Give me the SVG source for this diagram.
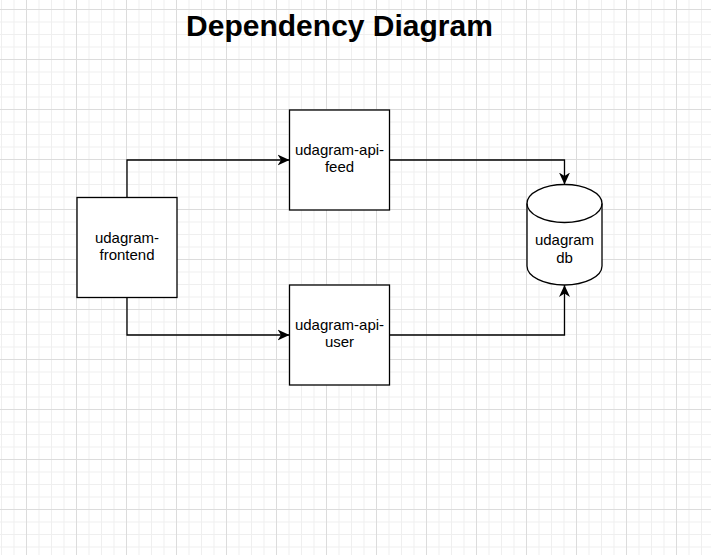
<svg xmlns="http://www.w3.org/2000/svg" width="711" height="555" viewBox="0 0 711 555">
<style>
.node{fill:#fff;stroke:#000;stroke-width:1.3}
.lbl{font-family:"Liberation Sans",Arial,sans-serif;font-size:15px;fill:#000;text-anchor:middle}
.title{font-family:"Liberation Sans",Arial,sans-serif;font-size:30px;font-weight:bold;fill:#000;text-anchor:middle}
.edge{fill:none;stroke:#000;stroke-width:1.3}
.minor{stroke:#efefef;stroke-width:1}
.major{stroke:#dcdcdc;stroke-width:1}
</style>
<defs>
<pattern id="grid" patternUnits="userSpaceOnUse" x="26" y="9" width="50" height="50">
<path class="minor" d="M13,0V50M25.5,0V50M38,0V50M0,13H50M0,25.5H50M0,38H50"/>
<path class="major" d="M0.5,0V50M0,0.5H50"/>
</pattern>
<marker id="arr" markerUnits="userSpaceOnUse" viewBox="0 0 12 12" refX="12" refY="6" markerWidth="12" markerHeight="12" orient="auto">
<path d="M0,0.5L12,6L0,11.5L3.5,6Z" fill="#000"/>
</marker>
</defs>
<rect width="711" height="555" fill="#fff"/>
<rect width="711" height="555" fill="url(#grid)"/>
<text class="title" x="339.5" y="36">Dependency Diagram</text>
<g id="connectors">
<path class="edge" d="M127,197.5V160H289.5" marker-end="url(#arr)"/>
<path class="edge" d="M127,297.5V335H289.5" marker-end="url(#arr)"/>
<path class="edge" d="M389.5,160H564.5V184.5" marker-end="url(#arr)"/>
<path class="edge" d="M389.5,335H564.5V285" marker-end="url(#arr)"/>
</g>
<g id="frontend">
<rect class="node" x="77" y="197.5" width="100" height="100"/>
<text class="lbl" x="127" y="242.5">udagram-</text>
<text class="lbl" x="127" y="260">frontend</text>
</g>
<g id="api-feed">
<rect class="node" x="289.5" y="110" width="100" height="100"/>
<text class="lbl" x="339.5" y="154.5">udagram-api-</text>
<text class="lbl" x="339.5" y="172">feed</text>
</g>
<g id="api-user">
<rect class="node" x="289.5" y="285" width="100" height="100"/>
<text class="lbl" x="339.5" y="329.5">udagram-api-</text>
<text class="lbl" x="339.5" y="347">user</text>
</g>
<g id="db">
<path class="node" d="M527,203.5A37.5,19 0 0 1 602,203.5V266A37.5,19 0 0 1 527,266Z"/>
<path class="edge" d="M527,203.5A37.5,19 0 0 0 602,203.5"/>
<text class="lbl" x="564.5" y="245">udagram</text>
<text class="lbl" x="564.5" y="262.5">db</text>
</g>
</svg>
